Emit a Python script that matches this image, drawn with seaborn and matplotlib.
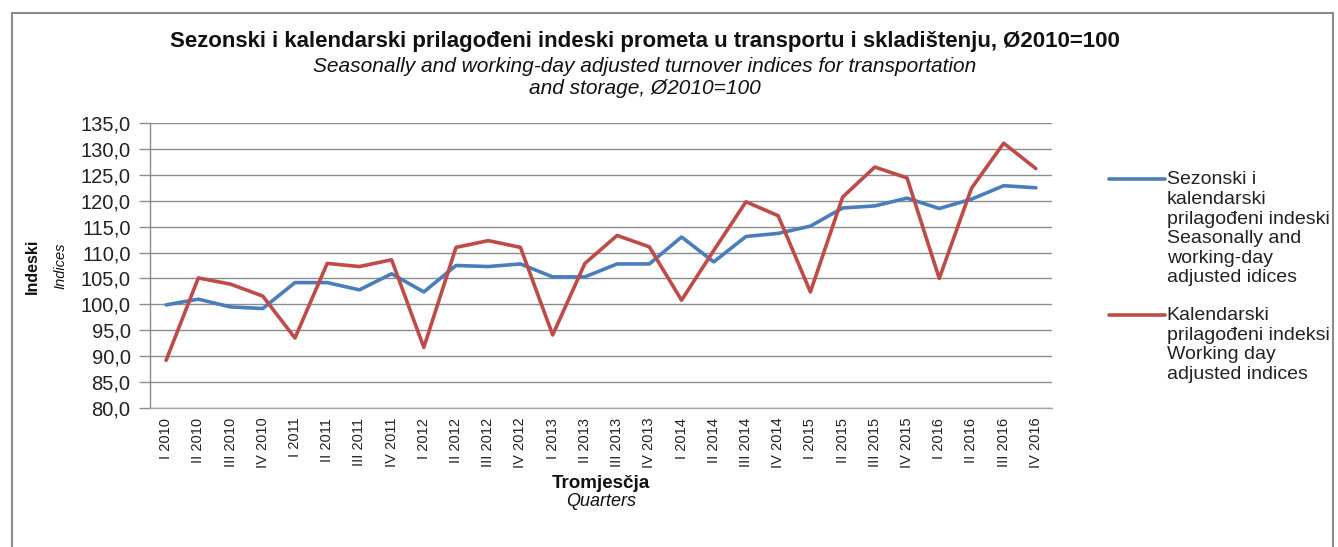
import matplotlib
matplotlib.use("Agg")
import matplotlib.pyplot as plt
import seaborn as sns
import pandas as pd
from matplotlib.patches import Rectangle
from matplotlib.ticker import FuncFormatter

quarters = ["I 2010", "II 2010", "III 2010", "IV 2010",
            "I 2011", "II 2011", "III 2011", "IV 2011",
            "I 2012", "II 2012", "III 2012", "IV 2012",
            "I 2013", "II 2013", "III 2013", "IV 2013",
            "I 2014", "II 2014", "III 2014", "IV 2014",
            "I 2015", "II 2015", "III 2015", "IV 2015",
            "I 2016", "II 2016", "III 2016", "IV 2016"]

seasonal = [99.9, 101.0, 99.5, 99.2, 104.2, 104.2, 102.8, 105.9,
            102.4, 107.5, 107.3, 107.8, 105.3, 105.3, 107.8, 107.8,
            113.0, 108.2, 113.1, 113.7, 115.1, 118.6, 119.0, 120.5,
            118.5, 120.3, 122.9, 122.5]

working_day = [89.2, 105.1, 103.9, 101.6, 93.5, 107.9, 107.3, 108.6,
               91.7, 111.0, 112.3, 111.0, 94.1, 107.9, 113.3, 111.1,
               100.8, 110.4, 119.8, 117.1, 102.4, 120.7, 126.5, 124.4,
               105.0, 122.4, 131.1, 126.2]

label_seasonal = "Sezonski i\nkalendarski\nprilagođeni indeski\nSeasonally and\nworking-day\nadjusted idices"
label_working = "Kalendarski\nprilagođeni indeksi\nWorking day\nadjusted indices"

yticks = [80, 85, 90, 95, 100, 105, 110, 115, 120, 125, 130, 135]

df = pd.DataFrame({
    "pos": list(range(len(quarters))) * 2,
    "value": seasonal + working_day,
    "series": [label_seasonal] * len(quarters) + [label_working] * len(quarters),
})

sns.set_theme(style="white")
plt.rcParams["font.family"] = ["Liberation Sans", "DejaVu Sans"]

fig = plt.figure(figsize=(13.38, 5.47), dpi=100)
ax = fig.add_axes([150 / 1338, 1 - 408 / 547, (1052 - 150) / 1338, (408 - 123) / 547])

sns.lineplot(data=df, x="pos", y="value", hue="series",
             palette={label_seasonal: "#4A7EBB", label_working: "#BE4B48"},
             linewidth=2.6, ax=ax, legend=True)

ax.set_xlim(-0.5, len(quarters) - 0.5)
ax.set_ylim(80, 135)
ax.set_yticks(yticks)
ax.yaxis.set_major_formatter(FuncFormatter(lambda v, p: f"{v:.1f}".replace(".", ",")))
ax.set_xticks(range(len(quarters)))
ax.set_xticklabels(quarters, rotation=90, fontsize=10.5, color="#222222")
ax.tick_params(axis="y", labelsize=14.5, length=8, width=1, color="#8c8c8c", left=True,
               labelcolor="#222222", pad=6)
ax.tick_params(axis="x", length=0, pad=7)
ax.grid(axis="y", color="#8c8c8c", linewidth=1)
ax.grid(axis="x", visible=False)
for s in ["top", "right"]:
    ax.spines[s].set_visible(False)
ax.spines["left"].set_color("#8c8c8c")
ax.spines["bottom"].set_color("#a6a6a6")
ax.spines["left"].set_linewidth(1)
ax.spines["bottom"].set_linewidth(1)
ax.set_xlabel("")
ax.set_ylabel("")

# Legend
leg = ax.legend(loc="upper left", bbox_to_anchor=(1091 / 1338, 1 - 154 / 547),
                bbox_transform=fig.transFigure, frameon=False, fontsize=14,
                handlelength=2.9, handletextpad=0.1, labelspacing=1.05)
pitch_pt = 14.3
for t, h, lab in zip(leg.get_texts(), leg.legend_handles, [label_seasonal, label_working]):
    t.set_color("#222222")
    n = lab.count("\n") + 1
    y = h.get_ydata()
    h.set_ydata([v + (n - 1) / 2 * pitch_pt for v in y])

# Titles
fig.text(645 / 1338, 1 - 41 / 547, "Sezonski i kalendarski prilagođeni indeski prometa u transportu i skladištenju, Ø2010=100",
         ha="center", va="center", fontsize=16, fontweight="bold", color="#111111")
fig.text(645 / 1338, 1 - 66 / 547, "Seasonally and working-day adjusted turnover indices for transportation",
         ha="center", va="center", fontsize=15, style="italic", color="#111111")
fig.text(645 / 1338, 1 - 88 / 547, "and storage, Ø2010=100",
         ha="center", va="center", fontsize=15, style="italic", color="#111111")

# Axis titles
fig.text(32 / 1338, 1 - 266 / 547, "Indeski", rotation=90, ha="center", va="center",
         fontsize=11.5, fontweight="bold", color="#111111")
fig.text(60 / 1338, 1 - 266 / 547, "Indices", rotation=90, ha="center", va="center",
         fontsize=10.5, style="italic", color="#111111")
fig.text(601 / 1338, 1 - 483 / 547, "Tromjesčja", ha="center", va="center",
         fontsize=13.5, fontweight="bold", color="#111111")
fig.text(601 / 1338, 1 - 502 / 547, "Quarters", ha="center", va="center",
         fontsize=13, style="italic", color="#111111")

# Outer border
fig.patches.append(Rectangle((12 / 1338, -0.05), (1333 - 12) / 1338, 1.05 - 13 / 547,
                             transform=fig.transFigure, fill=False,
                             edgecolor="#8c8c8c", linewidth=1.5))

fig.savefig("out.png", dpi=100)
